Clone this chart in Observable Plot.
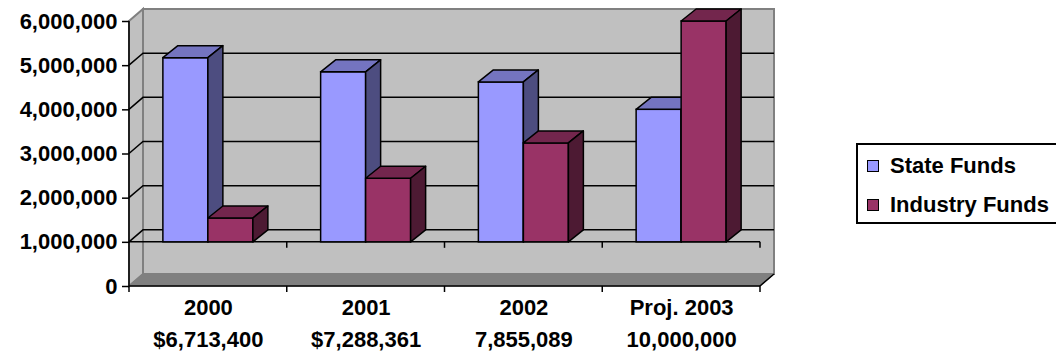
<!DOCTYPE html>
<html><head><meta charset="utf-8">
<script src="https://cdn.jsdelivr.net/npm/d3@7"></script>
<script src="https://cdn.jsdelivr.net/npm/@observablehq/plot@0.6"></script>
<style>
html,body{margin:0;padding:0;background:#fff;}
#chart{position:relative;width:1056px;height:360px;overflow:hidden;font-family:"Liberation Sans",Arial,sans-serif;font-weight:bold;}
#chart svg{position:absolute;left:0;top:0;}
#legend{position:absolute;left:856px;top:143px;width:204px;height:81px;border:2px solid #000;box-sizing:border-box;background:#fff;}
.item{position:absolute;left:9px;height:22px;display:flex;align-items:center;font-size:22px;line-height:22px;white-space:nowrap;color:#000;}
.sw{width:10px;height:10px;border:1.5px solid #000;margin-right:11px;flex:none;}
</style></head><body>
<div id="chart"><div id="legend"></div></div>
<script>
// ---- data ----
const years = ["2000", "2001", "2002", "Proj. 2003"];
const totals = ["$6,713,400", "$7,288,361", "7,855,089", "10,000,000"];
const stateFunds = [5170000, 4850000, 4620000, 4000000];
const industryFunds = [1540000, 2440000, 3240000, 6000000];
const seriesNames = ["State Funds", "Industry Funds"];
const yTicks = [0, 1000000, 2000000, 3000000, 4000000, 5000000, 6000000];
const gridTicks = [1000000, 2000000, 3000000, 4000000, 5000000];
const crossAt = 1000000; // category axis crosses the value axis here

// ---- styles ----
const frontColors = ["#9999FF", "#993366"];
const topColors = ["#7474C0", "#73264D"];
const sideColors = ["#4D4D80", "#4D1A33"];
const WALL_DX = 14, WALL_DY = 12;
const BAR_DX = 15, BAR_DY = 12;
const LW = 1.5;

const rows = years.map((year, i) => ({year, total: totals[i], state: stateFunds[i], industry: industryFunds[i]}));

function bandInfo(scales, dims) {
  const x0 = dims.marginLeft, x1 = dims.width - dims.marginRight;
  const bw = scales.x.bandwidth ? scales.x.bandwidth() : (x1 - x0) / years.length;
  const s0 = scales.x(years[0]);
  const off = Math.abs(s0 - x0) < bw / 4 ? 0 : bw / 2;
  const bounds = years.map(y => scales.x(y) - off);
  bounds.push(bounds[bounds.length - 1] + bw);
  return {x0, x1, bw, bounds};
}

// walls, floor and gridlines
function scaffold(index, scales, values, dims) {
  const {x0, x1} = bandInfo(scales, dims);
  const yTop = scales.y(yTicks[yTicks.length - 1]), yBot = scales.y(0);
  const g = d3.create("svg:g");
  g.append("rect").attr("x", x0 + WALL_DX).attr("y", yTop - WALL_DY)
    .attr("width", x1 - x0).attr("height", yBot - yTop)
    .attr("fill", "#C0C0C0").attr("stroke", "#808080").attr("stroke-width", 2);
  g.append("path").attr("d", `M${x0},${yTop}L${x0 + WALL_DX},${yTop - WALL_DY}L${x0 + WALL_DX},${yBot - WALL_DY}L${x0},${yBot}Z`)
    .attr("fill", "#C0C0C0").attr("stroke", "#808080").attr("stroke-width", 2);
  for (const i of index) {
    const y = values.y[i];
    g.append("path").attr("d", `M${x0},${y}L${x0 + WALL_DX},${y - WALL_DY}H${x1 + WALL_DX}`)
      .attr("fill", "none").attr("stroke", "#000").attr("stroke-width", LW);
  }
  g.append("path").attr("d", `M${x0},${yBot}L${x0 + WALL_DX},${yBot - WALL_DY}H${x1 + WALL_DX}L${x1},${yBot}Z`)
    .attr("fill", "#808080").attr("stroke", "#808080").attr("stroke-width", 1);
  g.append("path").attr("d", `M${x1},${yBot}L${x1 + WALL_DX},${yBot - WALL_DY}`)
    .attr("fill", "none").attr("stroke", "#000").attr("stroke-width", LW);
  return g.node();
}

// front axis lines (value 0 and the crossing value) with category ticks
function axisLines(index, scales, values, dims) {
  const {x0, x1, bounds} = bandInfo(scales, dims);
  const g = d3.create("svg:g").attr("stroke", "#000").attr("stroke-width", LW).attr("fill", "none");
  const yTop = scales.y(yTicks[yTicks.length - 1]);
  for (const i of index) {
    const y = values.y[i];
    g.append("path").attr("d", `M${x0},${y}H${x1}`);
    const bs = Math.abs(y - scales.y(0)) < 0.5 ? bounds : bounds.slice(1);
    for (const b of bs) g.append("path").attr("d", `M${b},${y}V${y + 6}`);
  }
  g.append("path").attr("d", `M${x0},${yTop}V${scales.y(0)}`);
  return g.node();
}

function faces(k) {
  return function(index, scales, values, dims, context, next) {
    const g = next(index, scales, values, dims, context);
    d3.select(g).selectAll("rect").each(function() {
      const r = d3.select(this);
      const x = +r.attr("x"), y = +r.attr("y"), w = +r.attr("width"), h = +r.attr("height");
      const side = document.createElementNS("http://www.w3.org/2000/svg", "path");
      side.setAttribute("d", `M${x + w},${y}L${x + w + BAR_DX},${y - BAR_DY}V${y + h - BAR_DY}L${x + w},${y + h}Z`);
      side.setAttribute("fill", sideColors[k]); side.setAttribute("stroke", "#000"); side.setAttribute("stroke-width", LW);
      side.setAttribute("stroke-linejoin", "round");
      const top = document.createElementNS("http://www.w3.org/2000/svg", "path");
      top.setAttribute("d", `M${x},${y}L${x + BAR_DX},${y - BAR_DY}H${x + w + BAR_DX}L${x + w},${y}Z`);
      top.setAttribute("fill", topColors[k]); top.setAttribute("stroke", "#000"); top.setAttribute("stroke-width", LW);
      top.setAttribute("stroke-linejoin", "round");
      this.after(top);
      top.after(side);
    });
    return g;
  };
}

const BARW = 45;
const bandPx = (1056 - 129 - 296) / years.length;
const inset = (bandPx - BARW) / 2;

const plot = Plot.plot({
  width: 1056,
  height: 360,
  marginLeft: 129,
  marginRight: 296,
  marginTop: 21,
  marginBottom: 74,
  style: {fontFamily: "'Liberation Sans', Arial, sans-serif", fontWeight: "bold", fontSize: "22px", background: "transparent", overflow: "visible", color: "#000"},
  x: {type: "band", domain: years, paddingInner: 0, paddingOuter: 0, round: false, axis: null},
  y: {domain: [0, 6000000], axis: null},
  marks: [
    Plot.ruleY(gridTicks, {y: d => d, render: scaffold}),
    Plot.ruleY([0, crossAt], {y: d => d, render: axisLines}),
    Plot.axisY(yTicks, {tickFormat: d3.format(","), tickSize: 7, tickPadding: 5, fontSize: 22, label: null, stroke: "#000", strokeWidth: LW}),
    Plot.barY(rows, {x: "year", y1: () => crossAt, y2: "state", fill: frontColors[0], stroke: "#000", strokeWidth: LW,
      insetLeft: inset, insetRight: inset, dx: -BARW / 2, render: faces(0)}),
    Plot.barY(rows, {x: "year", y1: () => crossAt, y2: "industry", fill: frontColors[1], stroke: "#000", strokeWidth: LW,
      insetLeft: inset, insetRight: inset, dx: BARW / 2, render: faces(1)}),
    Plot.text(rows, {x: "year", text: "year", frameAnchor: "bottom", dy: 28.5, fontSize: 22, fill: "#000"}),
    Plot.text(rows, {x: "year", text: "total", frameAnchor: "bottom", dy: 60, fontSize: 22, fill: "#000"})
  ]
});
document.getElementById("chart").prepend(plot);

const legend = document.getElementById("legend");
const legendTops = [10, 49];
seriesNames.forEach((name, k) => {
  const item = document.createElement("div");
  item.className = "item";
  item.style.top = legendTops[k] + "px";
  const sw = document.createElement("span");
  sw.className = "sw";
  sw.style.background = frontColors[k];
  item.appendChild(sw);
  item.appendChild(document.createTextNode(name));
  legend.appendChild(item);
});
</script>
</body></html>
